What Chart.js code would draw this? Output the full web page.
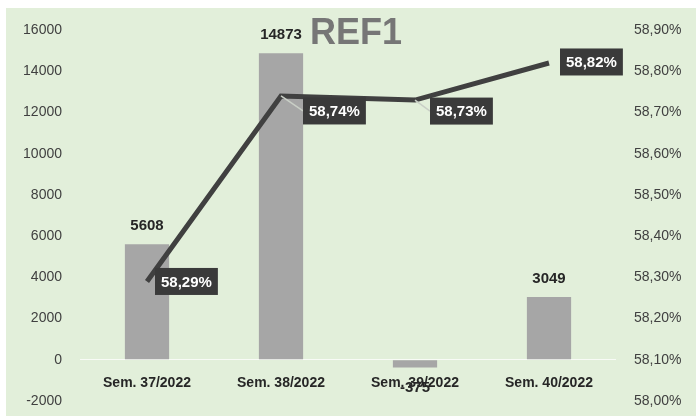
<!DOCTYPE html>
<html>
<head>
<meta charset="utf-8">
<script src="https://cdn.jsdelivr.net/npm/chart.js@4.4.1/dist/chart.umd.min.js"></script>
<style>
  html, body { margin: 0; padding: 0; background: #ffffff; }
  #wrap { position: absolute; left: 6px; top: 8px; width: 690px; height: 408px; background: #e2efda; }
  canvas { display: block; }
</style>
</head>
<body>
<div id="wrap"><canvas id="c" width="690" height="408"></canvas></div>
<script>
// ---- data ----
const categories = ["Sem. 37/2022", "Sem. 38/2022", "Sem. 39/2022", "Sem. 40/2022"];
const barValues = [5608, 14873, -375, 3049];
const lineValues = [58.29, 58.74, 58.73, 58.82];
const leftTicks = [-2000, 0, 2000, 4000, 6000, 8000, 10000, 12000, 14000, 16000];
const rightTicks = [58.00, 58.10, 58.20, 58.30, 58.40, 58.50, 58.60, 58.70, 58.80, 58.90];
const titleText = "REF1";

// ---- label placement (style, not data) ----
const lineLabelOffsets = [
  { dx: 8, dy: 0, leader: false },
  { dx: 22, dy: 15, leader: true },
  { dx: 15, dy: 11, leader: true },
  { dx: 11, dy: -1, leader: false }
];

const FONT = "'Liberation Sans', Arial, sans-serif";
const fmtPct = v => v.toFixed(2).replace('.', ',') + '%';

const labelPlugin = {
  id: 'labels',
  afterDatasetsDraw(chart) {
    const ctx = chart.ctx;
    const barMeta = chart.getDatasetMeta(0);
    ctx.save();
    ctx.font = "bold 15px " + FONT;
    ctx.fillStyle = "#262626";
    ctx.textAlign = "center";
    ctx.textBaseline = "middle";
    barMeta.data.forEach((el, i) => {
      const v = barValues[i];
      const y = v >= 0 ? el.y - 18 : el.y + 20;
      ctx.fillText(String(v), el.x, y);
    });
    ctx.restore();

    const lineMeta = chart.getDatasetMeta(1);
    ctx.save();
    ctx.font = "bold 15px " + FONT;
    lineMeta.data.forEach((el, i) => {
      const o = lineLabelOffsets[i];
      const txt = fmtPct(lineValues[i]);
      const w = ctx.measureText(txt).width + 12;
      const h = 27;
      const bx = el.x + o.dx;
      const by = el.y + o.dy - h / 2;
      if (o.leader) {
        ctx.strokeStyle = "#c9cfc6";
        ctx.lineWidth = 1.5;
        ctx.beginPath();
        ctx.moveTo(el.x, el.y);
        ctx.lineTo(bx, by + h / 2);
        ctx.stroke();
      }
      ctx.fillStyle = "#3a3a3a";
      ctx.fillRect(bx, by, w, h);
      ctx.fillStyle = "#ffffff";
      ctx.textAlign = "left";
      ctx.textBaseline = "middle";
      ctx.fillText(txt, bx + 6, by + h / 2 + 1);
    });
    ctx.restore();

    ctx.save();
    ctx.font = "bold 36px " + FONT;
    ctx.fillStyle = "#767676";
    ctx.textAlign = "center";
    ctx.textBaseline = "middle";
    ctx.fillText(titleText, 350, 26);
    ctx.restore();
  }
};

new Chart(document.getElementById('c'), {
  data: {
    labels: categories,
    datasets: [
      {
        type: 'bar',
        data: barValues,
        backgroundColor: '#a6a6a6',
        barPercentage: 0.33,
        categoryPercentage: 1,
        yAxisID: 'y',
        order: 1
      },
      {
        type: 'line',
        data: lineValues,
        borderColor: '#404040',
        borderWidth: 5,
        pointRadius: 0,
        tension: 0,
        yAxisID: 'y1',
        order: 0
      }
    ]
  },
  options: {
    responsive: false,
    animation: false,
    events: [],
    layout: { padding: { top: 22, bottom: 15, left: 0, right: 0 } },
    plugins: { legend: { display: false }, tooltip: { enabled: false } },
    scales: {
      x: {
        position: { y: 0 },
        offset: true,
        afterFit(s) { s.height = 0; },
        grid: { display: false, drawTicks: false },
        border: { display: false },
        ticks: { font: { family: FONT, size: 14, weight: 'bold' }, color: '#262626', padding: 15, maxRotation: 0 }
      },
      y: {
        position: 'left',
        min: leftTicks[0],
        max: leftTicks[leftTicks.length - 1],
        afterBuildTicks(s) { s.ticks = leftTicks.map(v => ({ value: v })); },
        afterFit(s) { s.width = 74; s.paddingTop = 0; s.paddingBottom = 0; },
        grid: {
          drawTicks: false,
          color: c => (c.tick && c.tick.value === 0) ? 'rgba(255,255,255,0.75)' : 'rgba(0,0,0,0)',
          lineWidth: 1
        },
        border: { display: false },
        ticks: { font: { family: FONT, size: 14 }, color: '#404040', padding: 18, callback: v => String(v) }
      },
      y1: {
        position: 'right',
        min: rightTicks[0],
        max: rightTicks[rightTicks.length - 1],
        afterBuildTicks(s) { s.ticks = rightTicks.map(v => ({ value: v })); },
        afterFit(s) { s.width = 80; s.paddingTop = 0; s.paddingBottom = 0; },
        grid: { display: false, drawTicks: false },
        border: { display: false },
        ticks: { font: { family: FONT, size: 14 }, color: '#404040', padding: 18, callback: v => fmtPct(v) }
      }
    }
  },
  plugins: [labelPlugin]
});
</script>
</body>
</html>
